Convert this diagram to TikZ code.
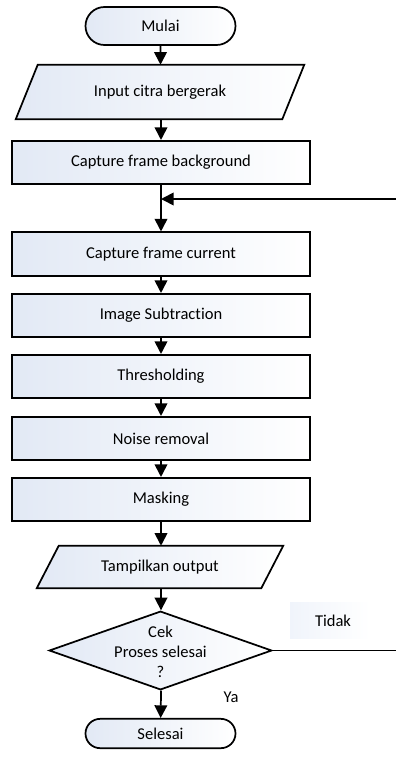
\documentclass[tikz,border=0pt]{standalone}
\usepackage{fontspec}
\setmainfont[Ligatures={NoCommon,NoRare}]{Carlito}
\usetikzlibrary{shapes.geometric,shapes.misc,arrows.meta}
\definecolor{fillblue}{RGB}{226,233,245}
\definecolor{faintblue}{RGB}{240,244,251}
\begin{document}
\begin{tikzpicture}[x=0.75pt,y=-0.75pt,
  font=\fontsize{12.4}{15}\selectfont,
  base/.style={line width=1.3pt,draw=black,left color=fillblue,right color=white},
  procbox/.style={base,rectangle,minimum width=223.5pt,minimum height=32.5pt,inner sep=0pt},
  termbox/.style={base,rounded rectangle,minimum width=112.5pt,inner sep=0pt},
  iobox/.style={rectangle,inner sep=0pt},
  flow/.style={line width=1.3pt,-{Triangle[length=9.5pt,width=9.5pt]}},
  plain/.style={line width=1.3pt}
]
\useasboundingbox (0,0) rectangle (396,757);

% terminals
\node[termbox,minimum height=28.5pt] (mulai) at (160.5,26) {Mulai};
\node[termbox,minimum height=22pt] (selesai) at (160.5,733.5) {Selesai};

% input parallelogram
\node[iobox,minimum width=216pt,minimum height=40.5pt] (input) at (160,92) {};
\path[base] ([xshift=16.5pt]input.north west) -- (input.north east) -- ([xshift=-16.5pt]input.south east) -- (input.south west) -- cycle;
\node at (input) {Input citra bergerak};

% process boxes
\node[procbox] (cfb) at (161,162.5) {Capture frame background};
\node[procbox] (cfc) at (161,254) {Capture frame current};
\node[procbox] (is) at (161,315.5) {Image Subtraction};
\node[procbox] (th) at (161,376.5) {Thresholding};
\node[procbox] (nr) at (161,438.5) {Noise removal};
\node[procbox] (mk) at (161,499.5) {Masking};

% output parallelogram
\node[iobox,minimum width=184.5pt,minimum height=31.5pt] (out) at (160,567) {};
\path[base] ([xshift=16.5pt]out.north west) -- (out.north east) -- ([xshift=-16.5pt]out.south east) -- (out.south west) -- cycle;
\node at (out) {Tampilkan output};

% decision
\node[base,diamond,minimum width=167pt,minimum height=59pt,inner sep=0pt,aspect=2.8] (cek) at (160.5,650.5) {};
\node[align=center] at (160.5,652) {Cek\\Proses selesai\\?};

% labels
\node[left color=faintblue,right color=white,minimum width=60pt,minimum height=27pt] (tidakbg) at (330,620) {};
\node (tidak) at (333,621) {Tidak};
\node (ya) at (231,697) {Ya};

% connectors
\coordinate (merge) at (161,199);
\coordinate (loopin) at (396,199);
\coordinate (loopout) at (396,650.5);
\draw[flow] (mulai) -- (input.north -| mulai);
\draw[flow] (input.south -| cfb) -- (cfb);
\draw[plain] (cfb) -- (merge);
\draw[flow] (merge) -- (cfc);
\draw[flow] (loopin) -- (merge);
\draw[flow] (cfc) -- (is);
\draw[flow] (is) -- (th);
\draw[flow] (th) -- (nr);
\draw[flow] (nr) -- (mk);
\draw[flow] (mk) -- (out.north -| mk);
\draw[flow] (out.south -| mk) -- (cek.north -| mk);
\draw[flow] (cek.south -| mk) -- (selesai);
\draw[plain] (cek.east) -- (loopout);
\end{tikzpicture}
\end{document}
